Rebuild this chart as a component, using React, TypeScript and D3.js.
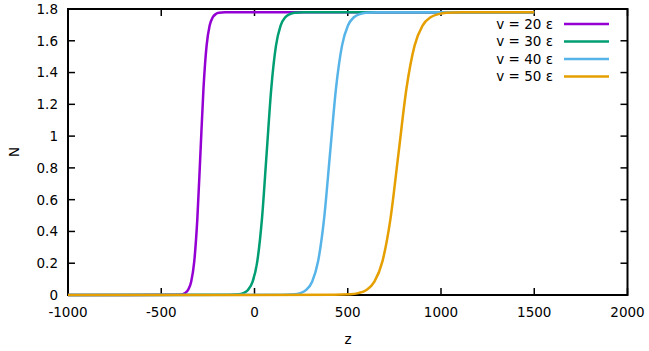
import React from "react";
import * as d3 from "d3";

const xTicks = [-1000, -500, 0, 500, 1000, 1500, 2000];
const yTicks = [0, 0.2, 0.4, 0.6, 0.8, 1, 1.2, 1.4, 1.6, 1.8];

const seriesLabels = ["v = 20 ε", "v = 30 ε", "v = 40 ε", "v = 50 ε"];
const seriesColors = ["#9400d3", "#009e73", "#56b4e9", "#e69f00"];

const nShape = [0, 0.001, 0.004, 0.012, 0.032, 0.084, 0.212, 0.479, 0.89, 1.301, 1.568, 1.696, 1.748, 1.768, 1.776, 1.779, 1.78];

const zV20 = [-1000, -422, -389, -372.5, -356, -339.5, -323, -306.5, -290, -273.5, -257, -240.5, -224, -207.5, -191, -158, 1500];
const nV20 = nShape;

const zV30 = [-1000, -135, -85, -60, -35, -10, 15, 40, 65, 90, 115, 140, 165, 190, 215, 265, 1500];
const nV30 = nShape;

const zV40 = [-1000, 149, 213, 245, 277, 309, 341, 373, 405, 437, 469, 501, 533, 565, 597, 661, 1500];
const nV40 = nShape;

const zV50 = [-1000, 428, 514, 557, 600, 643, 686, 729, 772, 815, 858, 901, 944, 987, 1030, 1116, 1500];
const nV50 = nShape;

const seriesZ = [zV20, zV30, zV40, zV50];
const seriesN = [nV20, nV30, nV40, nV50];

const W = 649, H = 351;
const L = 68, R = 627.5, T = 9, B = 295;
const FONT = "DejaVu Sans, sans-serif";

export default function App() {
  const x = d3.scaleLinear().domain([-1000, 2000]).range([L, R]);
  const y = d3.scaleLinear().domain([0, 1.8]).range([B, T]);
  const line = d3
    .line<[number, number]>()
    .x((d) => x(d[0]))
    .y((d) => y(d[1]))
    .curve(d3.curveMonotoneX);

  const fmtY = (v: number) => (Number.isInteger(v) ? String(v) : v.toFixed(1));
  const tickLen = 7;

  return (
    <svg
      width={W}
      height={H}
      style={{ position: "absolute", left: 0, top: 0, background: "#fff" }}
      fontFamily={FONT}
    >
      <rect x={0} y={0} width={W} height={H} fill="#fff" />
      {yTicks.map((t) => (
        <g key={"y" + t}>
          <line x1={L} x2={L + tickLen} y1={y(t)} y2={y(t)} stroke="#000" strokeWidth={1.5} />
          <line x1={R} x2={R - tickLen} y1={y(t)} y2={y(t)} stroke="#000" strokeWidth={1.5} />
          <text x={L - 10} y={y(t)} dy="0.36em" textAnchor="end" fontSize={13.5} fill="#000">
            {fmtY(t)}
          </text>
        </g>
      ))}
      {xTicks.map((t) => (
        <g key={"x" + t}>
          <line x1={x(t)} x2={x(t)} y1={B} y2={B - tickLen} stroke="#000" strokeWidth={1.5} />
          <line x1={x(t)} x2={x(t)} y1={T} y2={T + tickLen} stroke="#000" strokeWidth={1.5} />
          <text x={x(t)} y={B + 17} dy="0.36em" textAnchor="middle" fontSize={13.5} fill="#000">
            {t}
          </text>
        </g>
      ))}
      <rect x={L} y={T} width={R - L} height={B - T} fill="none" stroke="#000" strokeWidth={2} />
      {seriesZ.map((zs, i) => (
        <path
          key={"s" + i}
          d={line(zs.map((z, j) => [z, seriesN[i][j]] as [number, number])) || ""}
          fill="none"
          stroke={seriesColors[i]}
          strokeWidth={2.5}
          strokeLinejoin="round"
        />
      ))}
      {seriesLabels.map((lab, i) => {
        const yy = 24 + i * 17.5;
        return (
          <g key={"k" + i}>
            <text x={553} y={yy} dy="0.36em" textAnchor="end" fontSize={13.5} fill="#000">
              {lab}
            </text>
            <line x1={564} x2={609} y1={yy} y2={yy} stroke={seriesColors[i]} strokeWidth={2.5} />
          </g>
        );
      })}
      <text x={348} y={339} dy="0.36em" textAnchor="middle" fontSize={13.5} fill="#000">
        z
      </text>
      <text
        transform={`translate(14,${(T + B) / 2}) rotate(-90)`}
        dy="0.36em"
        textAnchor="middle"
        fontSize={13.5}
        fill="#000"
      >
        N
      </text>
    </svg>
  );
}
